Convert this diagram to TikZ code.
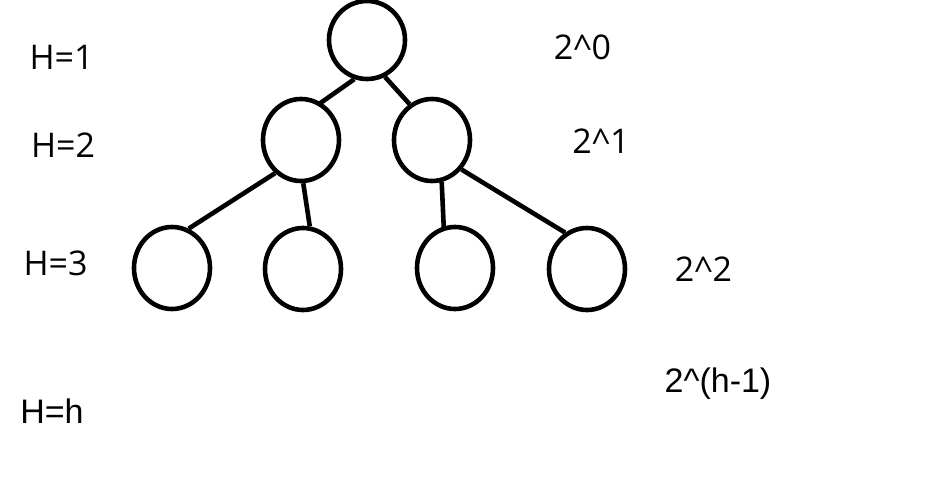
\documentclass[tikz,border=0pt]{standalone}
\usepackage{fontspec}
\setmainfont{Open Sans}
\newfontfamily\arialish{Liberation Sans}
\usetikzlibrary{shapes.geometric}
\begin{document}
\begin{tikzpicture}[x=1pt,y=-1pt,
  tnode/.style={draw,ellipse,line width=4.6pt,minimum width=76pt,minimum height=82pt,inner sep=0pt},
  edge/.style={line width=4.6pt},
  lbl/.style={anchor=base,inner sep=0pt,font=\fontsize{34}{38}\selectfont},
  lblb/.style={anchor=base,inner sep=0pt,font=\arialish\fontsize{34}{38}\selectfont}]
\useasboundingbox[fill=white] (0,0) rectangle (942,480);
\node[tnode,minimum height=78pt] (root) at (367,40) {};
\node[tnode] (L) at (301,140) {};
\node[tnode] (R) at (432,140) {};
\node[tnode] (LL) at (172,268) {};
\node[tnode] (LR) at (303,269) {};
\node[tnode] (RL) at (455,268) {};
\node[tnode] (RR) at (587,269) {};
\draw[edge] (root.252) -- ([shift={(3pt,-3pt)}]L.68);
\draw[edge] (root.296) -- (R.122);
\draw[edge] (L.232) -- (LL.67);
\draw[edge] (L.273) -- (LR.81);
\draw[edge] (R.283) -- ([shift={(0pt,-3pt)}]RL.105);
\draw[edge] (R.315) -- (RR.121);
\node[lbl] (h1) at (61.5,69) {H=1};
\node[lbl] (h2) at (63,157) {H=2};
\node[lbl] (h3) at (55.5,275) {H=3};
\node[lbl] (p0) at (582.5,59) {2\textasciicircum 0};
\node[lbl] (p1) at (601,153) {2\textasciicircum 1};
\node[lbl] (p2) at (703.5,281) {2\textasciicircum 2};
\node[lblb] (ph) at (718,392) {2\textasciicircum(h-1)};
\node[lblb] (hh) at (52,423) {H=h};
\end{tikzpicture}
\end{document}
